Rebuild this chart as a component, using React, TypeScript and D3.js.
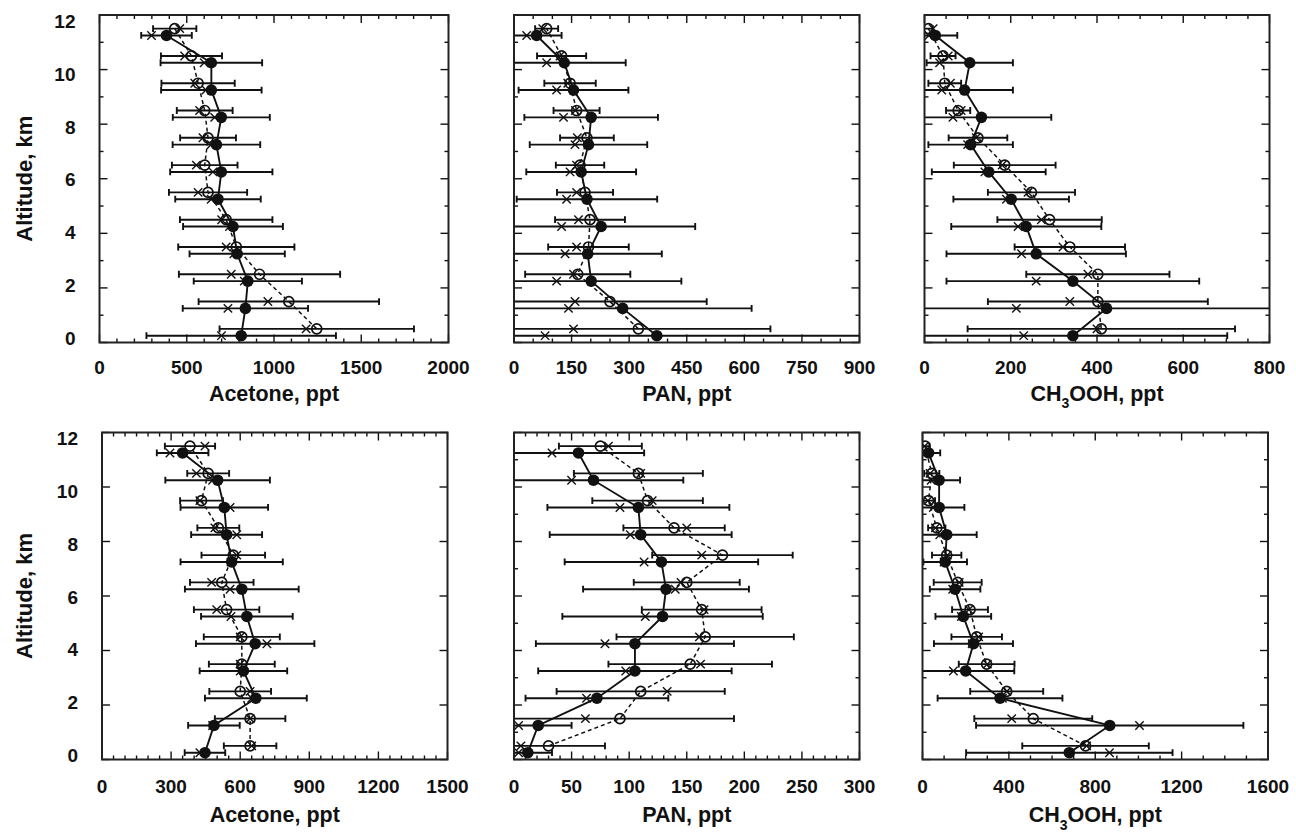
import React from "react";
import * as d3 from "d3";

// ---------- data ----------
const altFilled = [0.25, 1.25, 2.25, 3.25, 4.25, 5.25, 6.25, 7.25, 8.25, 9.25, 10.25, 11.25];
const altOpen = [0.5, 1.5, 2.5, 3.5, 4.5, 5.5, 6.5, 7.5, 8.5, 9.5, 10.5, 11.5];
const altitudeTicks = [0, 2, 4, 6, 8, 10, 12];

// Acetone (top)
const acetoneTopTicks = [0, 500, 1000, 1500, 2000];
const acetoneTopFilled = [812, 836, 850, 789, 765, 679, 698, 670, 698, 641, 641, 384];
const acetoneTopFilledSd = [543, 359, 310, 273, 286, 245, 293, 251, 278, 288, 291, 145];
const acetoneTopOpen = [1245, 1085, 917, 784, 726, 622, 603, 622, 603, 565, 527, 431];
const acetoneTopOpenSd = [557, 517, 462, 333, 265, 224, 188, 160, 160, 210, 175, 124];
const acetoneTopMedFilled = [699, 736, 830, 770, 745, 640, 650, 640, 660, 610, 600, 298];
const acetoneTopMedOpen = [1184, 965, 755, 726, 700, 565, 555, 593, 574, 546, 488, 460];

// PAN (top)
const panTopTicks = [0, 150, 300, 450, 600, 750, 900];
const panTopFilled = [372, 283, 201, 192, 227, 190, 175, 194, 201, 155, 131, 59];
const panTopFilledSd = [560, 336, 235, 193, 245, 183, 143, 153, 174, 143, 160, 65];
const panTopOpen = [324, 250, 166, 194, 198, 185, 172, 190, 163, 146, 124, 85];
const panTopOpenSd = [344, 252, 137, 105, 91, 73, 63, 70, 60, 67, 64, 30];
const panTopMedFilled = [81, 142, 111, 133, 124, 137, 146, 159, 129, 111, 85, 33];
const panTopMedOpen = [155, 159, 155, 163, 168, 163, 163, 165, 160, 140, 120, 75];

// CH3OOH (top)
const ch3oohTopTicks = [0, 200, 400, 600, 800];
const ch3oohTopFilled = [344, 422, 344, 259, 236, 201, 149, 107, 132, 93, 105, 25];
const ch3oohTopFilledSd = [358, 450, 293, 208, 174, 134, 132, 98, 162, 112, 100, 51];
const ch3oohTopOpen = [410, 402, 402, 337, 290, 248, 186, 124, 78, 47, 43, 9];
const ch3oohTopOpenSd = [310, 255, 166, 128, 121, 101, 118, 68, 28, 38, 29, 10];
const ch3oohTopMedFilled = [230, 213, 259, 225, 217, 190, 140, 100, 66, 40, 35, 10];
const ch3oohTopMedOpen = [400, 337, 379, 321, 271, 240, 180, 120, 85, 60, 55, 20];

// Acetone (bottom)
const acetoneBotTicks = [0, 300, 600, 900, 1200, 1500];
const acetoneBotFilled = [447, 486, 668, 614, 665, 629, 607, 563, 541, 531, 502, 350];
const acetoneBotFilledSd = [88, 112, 221, 190, 257, 199, 247, 222, 154, 190, 227, 112];
const acetoneBotOpen = [643, 643, 600, 607, 607, 541, 520, 570, 505, 432, 461, 382];
const acetoneBotOpenSd = [114, 153, 134, 143, 165, 142, 138, 138, 91, 93, 91, 109];
const acetoneBotMedFilled = [425, 480, 650, 600, 716, 560, 556, 560, 585, 556, 480, 295];
const acetoneBotMedOpen = [650, 643, 643, 600, 600, 498, 476, 585, 490, 425, 410, 447];

// PAN (bottom)
const panBotTicks = [0, 50, 100, 150, 200, 250, 300];
const panBotFilled = [12, 21, 72, 105, 105, 129, 132, 128, 110, 108, 69, 56];
const panBotFilledSd = [21, 29, 62, 84, 86, 87, 72, 84, 79, 79, 78, 57];
const panBotOpen = [30, 92, 110, 153, 166, 163, 150, 181, 139, 116, 108, 75];
const panBotOpenSd = [49, 99, 73, 71, 77, 52, 46, 61, 44, 48, 56, 36];
const panBotMedFilled = [4, 4, 63, 97, 79, 114, 140, 113, 101, 92, 50, 33];
const panBotMedOpen = [6, 62, 133, 162, 161, 165, 145, 163, 150, 120, 110, 82];

// CH3OOH (bottom)
const ch3oohBotTicks = [0, 400, 800, 1200, 1600];
const ch3oohBotFilled = [680, 867, 359, 200, 236, 189, 151, 105, 112, 77, 77, 28];
const ch3oohBotFilledSd = [478, 619, 289, 225, 183, 129, 117, 101, 139, 117, 97, 54];
const ch3oohBotOpen = [755, 513, 390, 297, 251, 220, 163, 112, 66, 28, 43, 12];
const ch3oohBotOpenSd = [293, 273, 169, 129, 117, 83, 111, 68, 40, 30, 35, 20];
const ch3oohBotMedFilled = [866, 1005, 370, 143, 230, 180, 140, 100, 80, 50, 40, 15];
const ch3oohBotMedOpen = [760, 413, 390, 300, 260, 215, 170, 115, 60, 25, 35, 10];

// ---------- layout ----------
type PanelCfg = {
  id: string;
  species: string;
  sub?: string;
  rest?: string;
  left: number;
  right: number;
  top: number;
  bottom: number;
  ticks: number[];
  minorStep: number;
  yMinor: boolean;
  yLabels: boolean;
  subShift: number;
  filled: number[];
  filledSd: number[];
  open: number[];
  openSd: number[];
  medFilled: number[];
  medOpen: number[];
};

const TOP = { top: 15, bottom: 342.5 };
const BOT = { top: 432.5, bottom: 759.5 };

const panels: PanelCfg[] = [
  {
    id: "p1", species: "Acetone, ppt", left: 99.5, right: 448.5, ...TOP,
    ticks: acetoneTopTicks, minorStep: 100, yMinor: true, yLabels: true, subShift: 0,
    filled: acetoneTopFilled, filledSd: acetoneTopFilledSd, open: acetoneTopOpen, openSd: acetoneTopOpenSd,
    medFilled: acetoneTopMedFilled, medOpen: acetoneTopMedOpen,
  },
  {
    id: "p2", species: "PAN, ppt", left: 514, right: 859.5, ...TOP,
    ticks: panTopTicks, minorStep: 50, yMinor: true, yLabels: false, subShift: 0,
    filled: panTopFilled, filledSd: panTopFilledSd, open: panTopOpen, openSd: panTopOpenSd,
    medFilled: panTopMedFilled, medOpen: panTopMedOpen,
  },
  {
    id: "p3", species: "CH", sub: "3", rest: "OOH, ppt", left: 924.5, right: 1269.5, ...TOP,
    ticks: ch3oohTopTicks, minorStep: 50, yMinor: true, yLabels: false, subShift: 7,
    filled: ch3oohTopFilled, filledSd: ch3oohTopFilledSd, open: ch3oohTopOpen, openSd: ch3oohTopOpenSd,
    medFilled: ch3oohTopMedFilled, medOpen: ch3oohTopMedOpen,
  },
  {
    id: "p4", species: "Acetone, ppt", left: 102, right: 447.5, ...BOT,
    ticks: acetoneBotTicks, minorStep: 50, yMinor: false, yLabels: true, subShift: 0,
    filled: acetoneBotFilled, filledSd: acetoneBotFilledSd, open: acetoneBotOpen, openSd: acetoneBotOpenSd,
    medFilled: acetoneBotMedFilled, medOpen: acetoneBotMedOpen,
  },
  {
    id: "p5", species: "PAN, ppt", left: 514, right: 859.5, ...BOT,
    ticks: panBotTicks, minorStep: 10, yMinor: true, yLabels: false, subShift: 0,
    filled: panBotFilled, filledSd: panBotFilledSd, open: panBotOpen, openSd: panBotOpenSd,
    medFilled: panBotMedFilled, medOpen: panBotMedOpen,
  },
  {
    id: "p6", species: "CH", sub: "3", rest: "OOH, ppt", left: 922.5, right: 1268, ...BOT,
    ticks: ch3oohBotTicks, minorStep: 100, yMinor: true, yLabels: false, subShift: 8.5,
    filled: ch3oohBotFilled, filledSd: ch3oohBotFilledSd, open: ch3oohBotOpen, openSd: ch3oohBotOpenSd,
    medFilled: ch3oohBotMedFilled, medOpen: ch3oohBotMedOpen,
  },
];

const FONT = "'Liberation Sans', Arial, Helvetica, sans-serif";
const INK = "#111";

function Panel({ p }: { p: PanelCfg }) {
  const dom = d3.extent(p.ticks) as [number, number];
  const x = d3.scaleLinear().domain(dom).range([p.left, p.right]);
  const y = d3.scaleLinear().domain([0, 12]).range([p.bottom, p.top]);
  const yLab = d3.scaleLinear().domain([0, 12]).range([p.bottom - 4.5, p.top + 6]);

  const filledPts = p.filled.map((v, i) => ({ v, a: altFilled[i], sd: p.filledSd[i] }));
  const openPts = p.open.map((v, i) => ({ v, a: altOpen[i], sd: p.openSd[i] }));
  const medPts = [
    ...p.medFilled.map((v, i) => ({ v, a: altFilled[i] })),
    ...p.medOpen.map((v, i) => ({ v, a: altOpen[i] })),
  ];

  const line = d3
    .line<{ v: number; a: number }>()
    .x((d) => x(d.v))
    .y((d) => y(d.a));

  const minors = d3
    .range(dom[0], dom[1] + 1e-9, p.minorStep)
    .filter((v) => !p.ticks.some((t) => Math.abs(t - v) < 1e-6));
  const yMinors = p.yMinor ? d3.range(1, 12, 2) : [];
  const cap = 3.4;
  const mid = (p.left + p.right) / 2;
  const isTop = p.top < 100;
  const tickBase = p.bottom + (isTop ? 31 : 33.5);
  const titleBase = p.bottom + (isTop ? 58 : 62);

  const errBar = (d: { v: number; a: number; sd: number }, k: string) => {
    const x0 = x(d.v - d.sd);
    const x1 = x(d.v + d.sd);
    const yy = y(d.a);
    return (
      <g key={k}>
        <line x1={x0} x2={x1} y1={yy} y2={yy} stroke={INK} strokeWidth={1.9} />
        <line x1={x0} x2={x0} y1={yy - cap} y2={yy + cap} stroke={INK} strokeWidth={1.9} />
        <line x1={x1} x2={x1} y1={yy - cap} y2={yy + cap} stroke={INK} strokeWidth={1.9} />
      </g>
    );
  };

  return (
    <g>
      <defs>
        <clipPath id={`clip-${p.id}`}>
          <rect x={p.left} y={p.top} width={p.right - p.left} height={p.bottom - p.top} />
        </clipPath>
      </defs>
      <g clipPath={`url(#clip-${p.id})`}>
        {filledPts.map((d, i) => errBar(d, `fe${i}`))}
        {openPts.map((d, i) => errBar(d, `oe${i}`))}
        <path d={line(filledPts) || ""} fill="none" stroke={INK} strokeWidth={1.9} />
        <path d={line(openPts) || ""} fill="none" stroke={INK} strokeWidth={1.5} strokeDasharray="4,3" />
        {medPts.map((d, i) => {
          const cx = x(d.v);
          const cy = y(d.a);
          const s = 4.2;
          return (
            <g key={`m${i}`} stroke={INK} strokeWidth={1.4}>
              <line x1={cx - s} y1={cy - s} x2={cx + s} y2={cy + s} />
              <line x1={cx - s} y1={cy + s} x2={cx + s} y2={cy - s} />
            </g>
          );
        })}
        {openPts.map((d, i) => (
          <circle key={`o${i}`} cx={x(d.v)} cy={y(d.a)} r={5} fill="none" stroke={INK} strokeWidth={1.7} />
        ))}
        {filledPts.map((d, i) => (
          <circle key={`f${i}`} cx={x(d.v)} cy={y(d.a)} r={5.8} fill={INK} />
        ))}
      </g>

      {/* ticks */}
      <g stroke={INK} strokeWidth={1.4}>
        {p.ticks.map((t) => (
          <g key={`xt${t}`}>
            <line x1={x(t)} x2={x(t)} y1={p.bottom} y2={p.bottom - 8} />
            <line x1={x(t)} x2={x(t)} y1={p.top} y2={p.top + 8} />
          </g>
        ))}
        {minors.map((t) => (
          <g key={`xm${t}`}>
            <line x1={x(t)} x2={x(t)} y1={p.bottom} y2={p.bottom - 4} />
            <line x1={x(t)} x2={x(t)} y1={p.top} y2={p.top + 4} />
          </g>
        ))}
        {altitudeTicks.map((t) => (
          <g key={`yt${t}`}>
            <line x1={p.left} x2={p.left + 8} y1={y(t)} y2={y(t)} />
            <line x1={p.right} x2={p.right - 8} y1={y(t)} y2={y(t)} />
          </g>
        ))}
        {yMinors.map((t) => (
          <g key={`ym${t}`}>
            <line x1={p.left} x2={p.left + 4} y1={y(t)} y2={y(t)} />
            <line x1={p.right} x2={p.right - 4} y1={y(t)} y2={y(t)} />
          </g>
        ))}
      </g>
      <rect
        x={p.left}
        y={p.top}
        width={p.right - p.left}
        height={p.bottom - p.top}
        fill="none"
        stroke="#222"
        strokeWidth={2}
      />

      {/* tick labels */}
      <g fontFamily={FONT} fontWeight="bold" fontSize={19} fill={INK}>
        {p.ticks.map((t) => (
          <text key={`xl${t}`} x={x(t)} y={tickBase} textAnchor="middle">
            {t}
          </text>
        ))}
        {p.yLabels &&
          altitudeTicks.map((t) => (
            <text key={`yl${t}`} x={p.left - 24} y={yLab(t)} dy="0.36em" textAnchor="end">
              {t}
            </text>
          ))}
      </g>

      {/* axis title */}
      <text x={mid} y={titleBase} textAnchor="middle" fontFamily={FONT} fontWeight="bold" fontSize={21.5} fill={INK}>
        {p.species}
        {p.sub && (
          <tspan fontSize={14} dy={p.subShift}>
            {p.sub}
          </tspan>
        )}
        {p.rest && <tspan dy={-p.subShift}>{p.rest}</tspan>}
      </text>

      {p.yLabels && (
        <text
          transform={`translate(31.5, ${(p.top + p.bottom) / 2}) rotate(-90)`}
          textAnchor="middle"
          fontFamily={FONT}
          fontWeight="bold"
          fontSize={22}
          fill={INK}
        >
          Altitude, km
        </text>
      )}
    </g>
  );
}

export default function App() {
  return (
    <svg
      width={1296}
      height={834}
      viewBox="0 0 1296 834"
      style={{ position: "absolute", left: 0, top: 0, background: "#fff" }}
    >
      <rect x={0} y={0} width={1296} height={834} fill="#fff" />
      {panels.map((p) => (
        <Panel key={p.id} p={p} />
      ))}
    </svg>
  );
}
